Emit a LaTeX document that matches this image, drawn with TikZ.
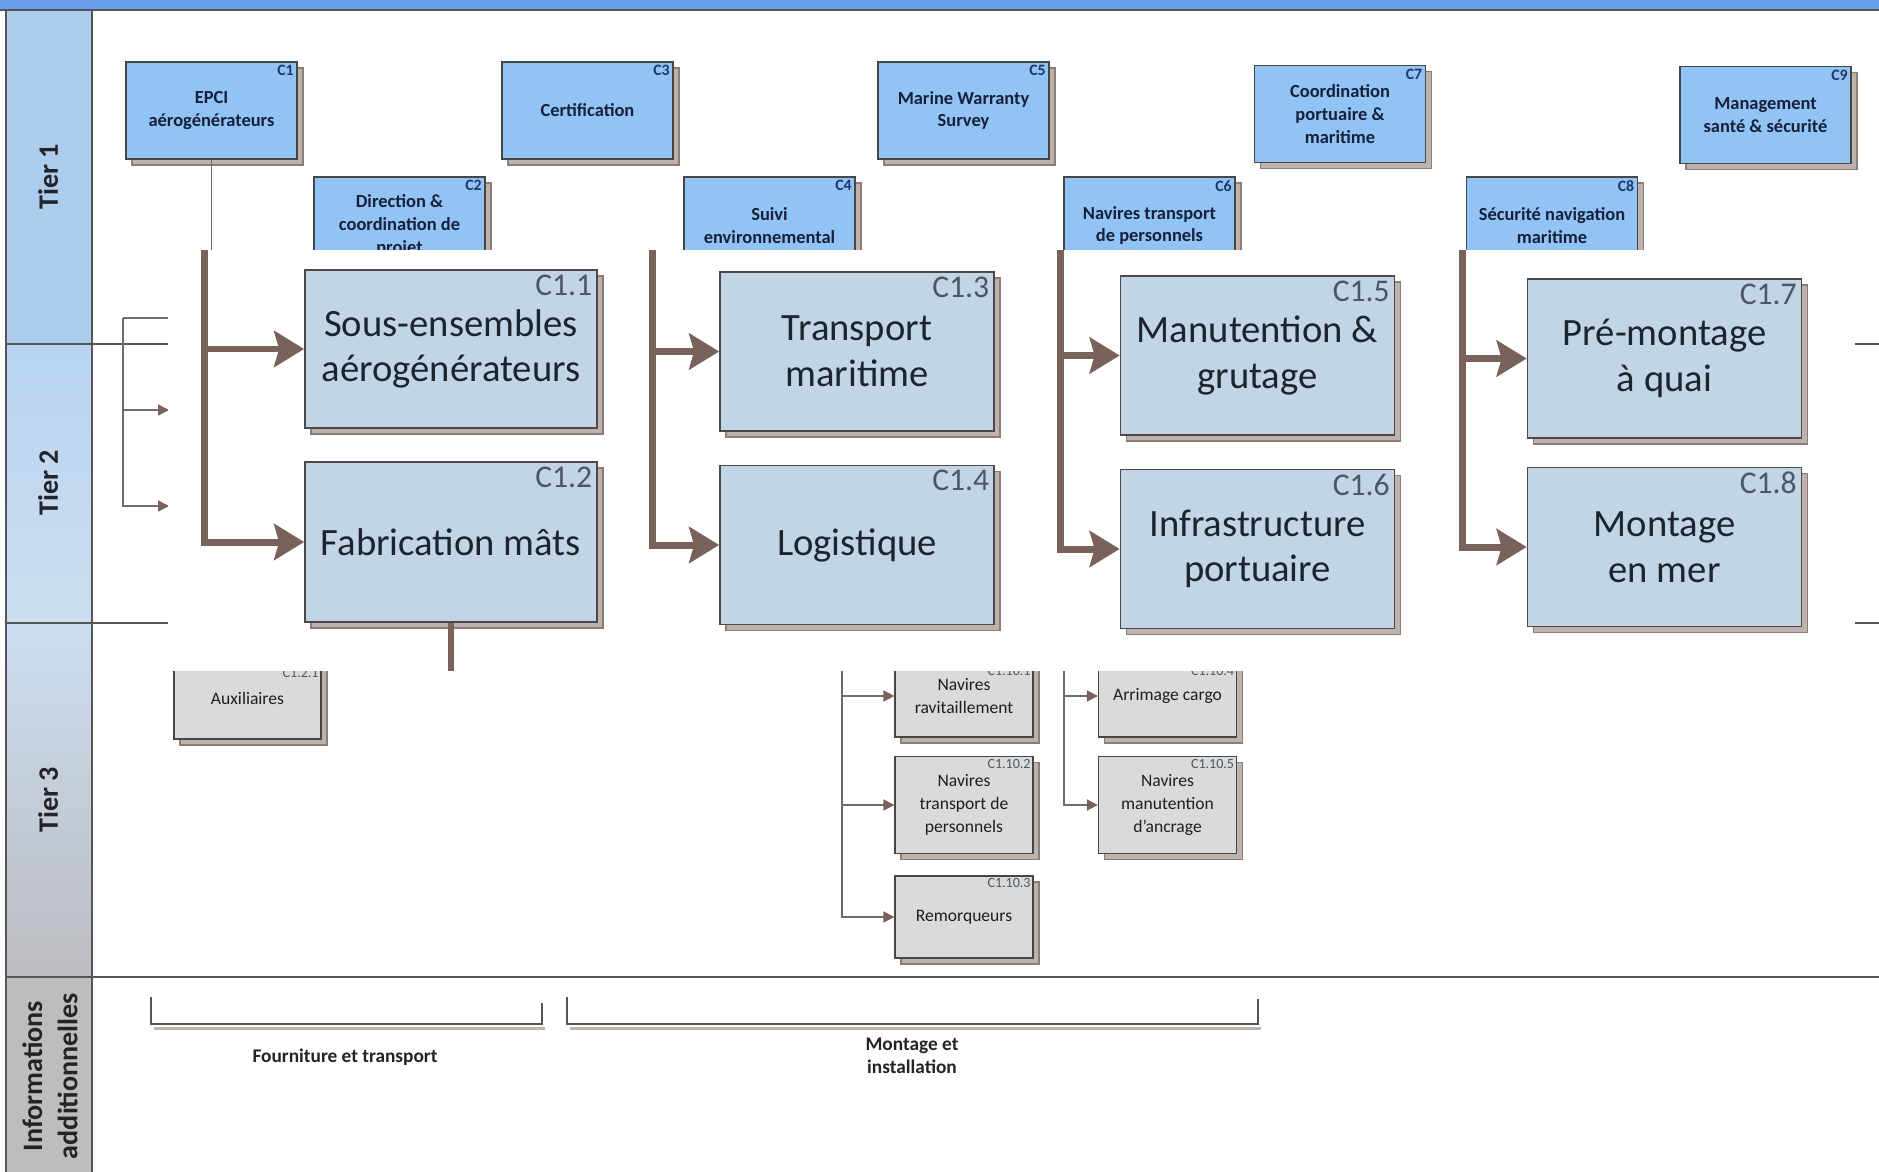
\documentclass[tikz,border=0pt]{standalone}
\usepackage{fontspec}
\setmainfont{Carlito}
\usepackage{xcolor}
\usepackage{tikz}
\usetikzlibrary{arrows.meta,shadows}

\definecolor{topblue}{RGB}{106,158,235}
\definecolor{laneone}{RGB}{172,205,238}
\definecolor{lanetwotop}{RGB}{184,212,240}
\definecolor{lanetwobot}{RGB}{204,222,240}
\definecolor{lanethreebot}{RGB}{188,188,192}
\definecolor{laneinfo}{RGB}{189,189,189}
\definecolor{laneline}{RGB}{85,85,85}
\definecolor{lanetext}{RGB}{35,35,40}
\definecolor{tierblue}{RGB}{146,195,245}
\definecolor{tiertext}{RGB}{22,32,58}
\definecolor{idblue}{RGB}{30,55,105}
\definecolor{boxline}{RGB}{70,70,70}
\definecolor{stagefill}{RGB}{194,213,231}
\definecolor{stageline}{RGB}{78,72,72}
\definecolor{stagetext}{RGB}{28,36,48}
\definecolor{idgray}{RGB}{75,88,100}
\definecolor{subfill}{RGB}{218,218,218}
\definecolor{subtext}{RGB}{30,30,30}
\definecolor{shadowfill}{RGB}{190,178,172}
\definecolor{shadowline}{RGB}{140,125,118}
\definecolor{brownarrow}{RGB}{121,98,90}
\definecolor{thingray}{RGB}{112,108,106}

\begin{document}
\begin{tikzpicture}[x=0.02cm, y=-0.02cm,
  boxshadow/.style={drop shadow={shadow xshift=0.12cm, shadow yshift=-0.12cm, fill=shadowfill, draw=shadowline, opacity=1}},
  tierbox/.style={draw=boxline, line width=0.7pt, fill=tierblue, minimum width=3.42cm, minimum height=1.94cm,
    inner sep=1pt, align=center, text=tiertext, font=\fontsize{10.5}{13}\selectfont\bfseries, boxshadow},
  tierid/.style={anchor=north east, inner sep=2pt, font=\fontsize{9}{9}\selectfont\bfseries, text=idblue},
  stagebox/.style={draw=stageline, line width=1pt, fill=stagefill, minimum width=5.48cm, minimum height=3.18cm,
    align=center, text=stagetext, font=\fontsize{22}{26}\selectfont, boxshadow},
  stageid/.style={anchor=north east, inner sep=3pt, font=\fontsize{18}{18}\selectfont, text=idgray},
  subbox/.style={draw=boxline, line width=0.7pt, fill=subfill, minimum width=2.76cm, minimum height=1.64cm,
    align=center, text=subtext, font=\fontsize{10}{13}\selectfont, boxshadow},
  subid/.style={anchor=north east, inner sep=1.5pt, font=\fontsize{8}{8}\selectfont, text=idgray},
  lanelabel/.style={rotate=90, align=center, text=lanetext, font=\fontsize{16}{20}\selectfont\bfseries},
  infotext/.style={align=center, text=lanetext, font=\fontsize{11}{13}\selectfont\bfseries},
  laneborder/.style={draw=laneline, line width=0.8pt},
  thinline/.style={draw=thingray, line width=0.9pt},
  thinarrow/.style={thinline, -{Triangle[length=0.22cm, width=0.22cm, color=brownarrow]}},
  bigline/.style={draw=brownarrow, line width=0.14cm},
  bigarrow/.style={bigline, -{Stealth[length=0.6cm, width=0.72cm, inset=0.1cm]}},
  bracketline/.style={draw=laneline, line width=1pt}]

\useasboundingbox (0,0) rectangle (1879,1172);

\fill[topblue] (0,0) rectangle (1879,10);
\fill[laneone] (6,10) rectangle (92,344);
\shade[top color=lanetwotop, bottom color=lanetwobot] (6,344) rectangle (92,623);
\shade[top color=lanetwobot, bottom color=lanethreebot] (6,623) rectangle (92,977);
\fill[laneinfo] (6,977) rectangle (92,1172);
\draw[laneborder] (0,10) -- (1879,10);
\draw[laneborder] (6,10) -- (6,1172);
\draw[laneborder] (92,10) -- (92,1172);
\draw[laneborder] (6,344) -- (1879,344);
\draw[laneborder] (6,623) -- (1879,623);
\draw[laneborder] (6,977) -- (1879,977);

\node[lanelabel] (tier1) at (48,177) {Tier 1};
\node[lanelabel] (tier2) at (48,483) {Tier 2};
\node[lanelabel] (tier3) at (48,800) {Tier 3};
\node[lanelabel] (infos) at (50,1076) {Informations\\additionnelles};

\node[tierbox, label={[tierid]north east:C1}] (epci) at (211.5,110.5) {EPCI\\aérogénérateurs};
\node[tierbox, label={[tierid]north east:C3}] (certif) at (587.5,110.5) {Certification};
\node[tierbox, label={[tierid]north east:C5}] (mws) at (963.5,110.5) {Marine Warranty\\Survey};
\node[tierbox, label={[tierid]north east:C7}] (coordpm) at (1340,114) {Coordination\\portuaire \&\\maritime};
\node[tierbox, label={[tierid]north east:C9}] (mgmt) at (1765.5,115) {Management\\santé \& sécurité};
\node[tierbox, label={[tierid]north east:C2}] (dircoord) at (399.5,225.5) {Direction \&\\coordination de\\projet};
\node[tierbox, label={[tierid]north east:C4}] (suivi) at (769.5,225.5) {Suivi\\environnemental};
\node[tierbox, label={[tierid]north east:C6}] (navpers) at (1149.5,225.5) {Navires transport\\de personnels};
\node[tierbox, label={[tierid]north east:C8}] (secnav) at (1552,225.5) {Sécurité navigation\\maritime};

\coordinate (epcidown) at (211.5,260);
\draw[thinline] (epci.south) -- (epcidown);

\coordinate (brcorner) at (123,318);
\coordinate (brtop) at (176,318);
\coordinate (brmid) at (169,410);
\coordinate (brbot) at (169,506);
\draw[thinline] (brcorner) -- (brtop);
\draw[thinarrow] (brcorner) |- (brmid);
\draw[thinarrow] (brcorner) |- (brbot);

\node[subbox, minimum width=2.94cm, label={[subid, yshift=-5pt]north east:C1.2.1}] (aux) at (247.5,698) {Auxiliaires};
\node[subbox, label={[subid, yshift=-5pt]north east:C1.10.1}] (navravit) at (964,696) {Navires\\ravitaillement};
\node[subbox, label={[subid, yshift=-5pt]north east:C1.10.4}] (arrimage) at (1167.5,696) {Arrimage cargo};
\node[subbox, minimum height=1.94cm, label={[subid]north east:C1.10.2}] (navtransp) at (964,805) {Navires\\transport de\\personnels};
\node[subbox, label={[subid]north east:C1.10.3}] (remorq) at (964,917) {Remorqueurs};
\node[subbox, minimum height=1.94cm, label={[subid]north east:C1.10.5}] (navmanut) at (1167.5,805) {Navires\\manutention\\d'ancrage};

\fill[white] (168,250) rectangle (1855,671);

\node[stagebox, minimum width=5.84cm, minimum height=3.16cm, label={[stageid]north east:C1.1}] (sousens) at (451,349) {Sous-ensembles\\aérogénérateurs};
\node[stagebox, minimum width=5.84cm, minimum height=3.2cm, label={[stageid]north east:C1.2}] (mats) at (451,542) {Fabrication mâts};
\node[stagebox, label={[stageid]north east:C1.3}] (transp) at (857,351.5) {Transport\\maritime};
\node[stagebox, label={[stageid]north east:C1.4}] (logist) at (857,545) {Logistique};
\node[stagebox, label={[stageid]north east:C1.5}] (manut) at (1257.5,355.5) {Manutention \&\\grutage};
\node[stagebox, label={[stageid]north east:C1.6}] (infra) at (1257.5,549) {Infrastructure\\portuaire};
\node[stagebox, label={[stageid]north east:C1.7}] (premont) at (1664.5,358.5) {Pré-montage\\à quai};
\node[stagebox, label={[stageid]north east:C1.8}] (montmer) at (1664.5,547) {Montage\\en mer};

\coordinate (trunka) at (204,250);
\coordinate (trunkb) at (652,250);
\coordinate (trunkc) at (1060,250);
\coordinate (trunkd) at (1462,250);
\draw[bigarrow] (trunka) |- (sousens.west);
\draw[bigarrow] (trunka) |- (mats.west);
\draw[bigarrow] (trunkb) |- (transp.west);
\draw[bigarrow] (trunkb) |- (logist.west);
\draw[bigarrow] (trunkc) |- (manut.west);
\draw[bigarrow] (trunkc) |- (infra.west);
\draw[bigarrow] (trunkd) |- (premont.west);
\draw[bigarrow] (trunkd) |- (montmer.west);

\coordinate (matsdown) at (451,671);
\draw[bigline, line width=0.11cm] (mats.south) -- (matsdown);

\coordinate (navtop) at (842,671);
\coordinate (cargotop) at (1064,671);
\draw[thinarrow] (navtop) |- (navravit.west);
\draw[thinarrow] (navtop) |- (navtransp.west);
\draw[thinarrow] (navtop) |- (remorq.west);
\draw[thinarrow] (cargotop) |- (arrimage.west);
\draw[thinarrow] (cargotop) |- (navmanut.west);

\draw[shadowfill, line width=0.06cm] (154,1028) -- (545,1028);
\draw[bracketline] (151,997) |- (542,1024) -- (542,1003);
\draw[shadowfill, line width=0.06cm] (570,1028) -- (1261,1028);
\draw[bracketline] (567,997) |- (1258,1024) -- (1258,999);
\node[infotext] (fourniture) at (345,1057) {Fourniture et transport};
\node[infotext] (montage) at (912,1056) {Montage et\\installation};
\end{tikzpicture}
\end{document}
